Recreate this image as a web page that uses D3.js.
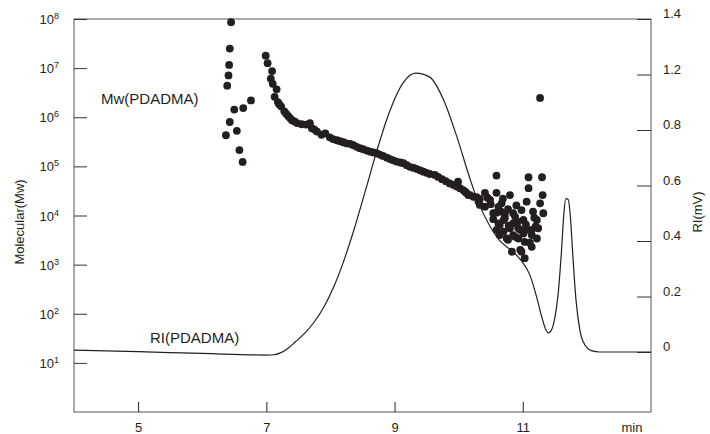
<!DOCTYPE html>
<html><head><meta charset="utf-8">
<script src="https://cdn.jsdelivr.net/npm/d3@7"></script>
<style>
body{margin:0;background:#fff}
text{font-family:"Liberation Sans", Arial, Helvetica, sans-serif;fill:#231f20}
</style>
</head><body><svg id="c" width="710" height="434"></svg>
<script>
// ---- data ----
const xTicks = [5, 7, 9, 11];
const mwExponents = [1, 2, 3, 4, 5, 6, 7, 8];
const riTicks = [0, 0.2, 0.4, 0.6, 0.8, 1.2, 1.4];
const riTickLabels = ["0", "0.2", "0.4", "0.6", "0.8", "1.2", "1.4"];

const riTime = [4.0, 5.0, 6.0, 7.0, 7.12, 7.22, 7.33, 7.45, 7.60, 7.75, 7.90, 8.05, 8.20, 8.35, 8.54, 8.73, 8.93, 9.13, 9.33, 9.55, 9.76, 9.97, 10.18, 10.29, 10.49, 10.64, 10.85, 11.00, 11.11, 11.22, 11.30, 11.36, 11.40, 11.44, 11.50, 11.55, 11.60, 11.64, 11.67, 11.71, 11.74, 11.78, 11.83, 11.89, 11.97, 12.08, 12.20, 13.0];
const riValue = [0.007, 0.001, -0.005, -0.011, -0.010, -0.003, 0.012, 0.036, 0.068, 0.109, 0.163, 0.234, 0.323, 0.428, 0.577, 0.730, 0.942, 1.138, 1.205, 1.181, 1.022, 0.777, 0.622, 0.549, 0.452, 0.401, 0.361, 0.322, 0.278, 0.195, 0.123, 0.080, 0.069, 0.076, 0.123, 0.206, 0.351, 0.495, 0.553, 0.549, 0.495, 0.351, 0.188, 0.080, 0.025, 0.004, 0.0, 0.0];

const mwTime = [
  6.45, 6.43, 6.42, 6.41, 6.39, 6.76, 6.64, 6.50, 6.43, 6.54, 6.37, 6.58, 6.63,
  6.99, 7.02, 7.09, 7.07, 7.10, 7.16, 7.13, 7.18, 7.20, 7.23, 7.28, 7.31, 7.34, 7.37, 7.40, 7.44, 7.48, 7.55, 7.62, 7.68, 7.71, 7.75, 7.79, 7.86, 7.92, 7.99, 8.04, 8.10, 8.15, 8.20, 8.25, 8.31, 8.36, 8.41, 8.46, 8.51, 8.57, 8.62, 8.67, 8.72, 8.77, 8.82, 8.88, 8.93, 8.98, 9.03, 9.09, 9.14, 9.19, 9.24, 9.30, 9.35, 9.40, 9.45, 9.50, 9.55, 9.63, 9.68, 9.74, 9.80, 9.86, 9.92, 9.99, 9.97, 10.02, 10.07, 10.12, 10.18, 10.23, 10.28,
  10.10, 10.15, 10.31, 10.33, 10.33, 10.41, 10.41, 10.49, 10.54, 10.54, 10.59, 10.59, 10.59, 10.59, 10.62, 10.64, 10.64, 10.67, 10.70, 10.70, 10.72, 10.75, 10.77, 10.77, 10.80, 10.80, 10.83, 10.85, 10.85, 10.85, 10.88, 10.93, 10.93, 10.96, 10.96, 10.98, 10.98, 11.01, 11.01, 11.03, 11.03, 11.06, 11.06, 11.09, 11.09, 11.11, 11.14, 11.14, 11.14, 11.16, 11.22, 11.22, 11.24, 11.27, 11.27, 11.30, 11.31, 11.32,
  10.45, 10.50, 10.62, 10.66, 10.72, 10.69, 10.88, 10.92, 11.05, 10.78, 10.90, 11.18, 11.20
];
const mwValue = [
  8.6e7, 2.5e7, 1.16e7, 7.1e6, 4.4e6, 2.2e6, 1.54e6, 1.43e6, 8.0e5, 5.3e5, 4.3e5, 2.15e5, 1.23e5,
  1.79e7, 1.26e7, 8.7e6, 6.1e6, 4.8e6, 3.7e6, 2.6e6, 2.04e6, 1.85e6, 1.67e6, 1.32e6, 1.18e6, 1.06e6, 9.6e5, 8.7e5, 8.2e5, 7.6e5, 7.2e5, 7.1e5, 7.6e5, 6.0e5, 5.6e5, 5.1e5, 4.4e5, 4.7e5, 3.9e5, 3.6e5, 3.4e5, 3.25e5, 3.1e5, 2.95e5, 2.86e5, 2.7e5, 2.5e5, 2.35e5, 2.23e5, 2.1e5, 1.99e5, 1.92e5, 1.85e5, 1.74e5, 1.63e5, 1.5e5, 1.41e5, 1.33e5, 1.25e5, 1.2e5, 1.16e5, 1.06e5, 9.8e4, 9.3e4, 8.8e4, 8.3e4, 7.8e4, 7.4e4, 7.0e4, 6.7e4, 6.1e4, 5.5e4, 5.0e4, 4.5e4, 4.2e4, 4.9e4, 3.9e4, 3.6e4, 3.3e4, 2.9e4, 2.6e4, 2.4e4, 2.35e4,
  3.05e4, 2.6e4, 1.91e4, 2.17e4, 1.64e4, 2.9e4, 1.51e4, 2.07e4, 1.11e4, 8.4e3, 6.5e4, 2.9e4, 1.14e4, 5.1e3, 6.9e3, 6.4e3, 4.0e3, 1.77e4, 8.1e3, 4.7e3, 8.8e3, 3.4e3, 1.34e4, 3.2e3, 2.6e4, 5.5e3, 1.83e3, 1.11e4, 6.9e3, 4.0e3, 3.7e3, 5.5e3, 3.4e3, 5.1e3, 2.0e3, 1.29e4, 1.83e3, 8.1e3, 4.3e3, 2.9e3, 1.35e3, 1.91e4, 5.1e3, 6.0e4, 3.6e4, 2.8e3, 5.1e3, 4.0e3, 2.3e3, 1.2e4, 8.1e3, 3.4e3, 5.5e3, 1.77e4, 2.47e6, 6.0e4, 2.6e4, 1.11e4,
  2.3e4, 1.7e4, 1.5e4, 1.2e4, 1.05e4, 2.2e4, 9.5e3, 7.5e3, 6.5e3, 6.2e3, 1.6e4, 9.0e3, 6.0e3
];

// ---- layout ----
const L = 74, R = 651, T = 19, B = 412;
const svg = d3.select("#c");

const x = d3.scaleLinear().domain([4, 13]).range([L, R]);
const yMw = d3.scaleLog().domain([1, 1e8]).range([B, T]);
const yRi = d3.scaleLinear().domain(riTicks)
  .range(riTicks.map((d, i) => 352 - i * (352 - T) / (riTicks.length - 1)));

// frame
svg.append("rect").attr("x", L).attr("y", T).attr("width", R - L).attr("height", B - T)
  .attr("fill", "none").attr("stroke", "#555").attr("stroke-width", 1);

// bottom axis (ticks inward)
const xAxis = d3.axisBottom(x).tickValues(xTicks).tickSizeInner(-10).tickSizeOuter(0).tickPadding(8).tickFormat(d3.format("d"));
const gx = svg.append("g").attr("transform", `translate(0,${B})`).call(xAxis);
gx.select(".domain").remove();
gx.selectAll(".tick line").attr("stroke", "#222");
gx.selectAll(".tick text").attr("font-size", 13).attr("dy", null).attr("y", 20);
svg.append("text").attr("x", 632).attr("y", 432).attr("text-anchor", "middle").attr("font-size", 13).text("min");

// left axis (log)
const yAxisL = d3.axisLeft(yMw).tickValues(mwExponents.map(e => Math.pow(10, e))).tickSizeInner(-13).tickSizeOuter(0).tickFormat("");
const gl = svg.append("g").attr("transform", `translate(${L},0)`).call(yAxisL);
gl.select(".domain").remove();
gl.selectAll(".tick line").attr("stroke", "#333");
const lbl = svg.append("g");
mwExponents.forEach(e => {
  const t = lbl.append("text").attr("x", 59).attr("y", yMw(Math.pow(10, e)) + 5)
    .attr("text-anchor", "end").attr("font-size", 13);
  t.append("tspan").text("10");
  t.append("tspan").attr("dy", -5).attr("font-size", 9).text(e);
});
svg.append("text").attr("transform", "translate(24,222) rotate(-90)")
  .attr("text-anchor", "middle").attr("font-size", 13).text("Molecular(Mw)");

// right axis
const yAxisR = d3.axisRight(yRi).tickValues(riTicks).tickSizeInner(-14).tickSizeOuter(0).tickPadding(12)
  .tickFormat((d, i) => riTickLabels[i]);
const gr = svg.append("g").attr("transform", `translate(${R},0)`).call(yAxisR);
gr.select(".domain").remove();
gr.selectAll(".tick line").attr("stroke", "#333");
gr.selectAll(".tick text").attr("font-size", 13).attr("x", 12).attr("dy", "-0.1em");
svg.append("text").attr("transform", "translate(702,212) rotate(-90)")
  .attr("text-anchor", "middle").attr("font-size", 13).text("RI(mV)");

// RI curve
const riData = riTime.map((t, i) => [t, riValue[i]]);
svg.append("path").datum(riData)
  .attr("fill", "none").attr("stroke", "#231f20").attr("stroke-width", 1.2)
  .attr("d", d3.line().x(d => x(d[0])).y(d => yRi(d[1])).curve(d3.curveMonotoneX));

// Mw scatter
const mwData = mwTime.map((t, i) => [t, mwValue[i]]);
svg.append("g").selectAll("circle").data(mwData).join("circle")
  .attr("cx", d => x(d[0])).attr("cy", d => yMw(d[1])).attr("r", 3.9).attr("fill", "#231f20");

// annotations
svg.append("text").attr("x", 101).attr("y", 104).attr("font-size", 15).text("Mw(PDADMA)");
svg.append("text").attr("x", 150).attr("y", 343).attr("font-size", 15).text("RI(PDADMA)");
</script>
</body></html>
